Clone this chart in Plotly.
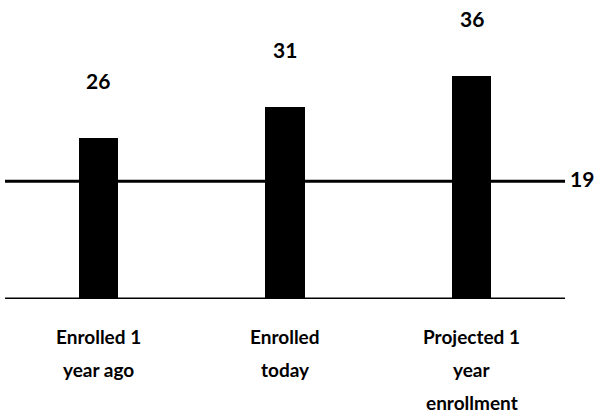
import plotly.graph_objects as go

categories = ["Enrolled 1<br>year ago", "Enrolled<br>today", "Projected 1<br>year<br>enrollment"]
values = [26, 31, 36]
reference_value = 19

FONT = "Lato"
x_idx = list(range(len(categories)))

fig = go.Figure()
fig.add_trace(go.Bar(
    x=x_idx, y=values, width=0.209,
    marker=dict(color="black", line=dict(width=0)),
    hoverinfo="skip", showlegend=False,
))

# value labels above bars
for i, v in enumerate(values):
    fig.add_annotation(x=i, y=v, xref="x", yref="y", text=str(v), showarrow=False,
                       yanchor="middle", yshift=57,
                       font=dict(family=FONT, size=21, color="black", weight=700))

# category labels, one annotation per line for wide line spacing
for i, cat in enumerate(categories):
    for j, line in enumerate(cat.split("<br>")):
        fig.add_annotation(x=i, y=0, xref="x", yref="paper", text=line, showarrow=False,
                           yanchor="middle", yshift=-(37 + 33 * j),
                           font=dict(family=FONT, size=19, color="black", weight=700))

# horizontal lines: baseline and reference
for yv in (0, reference_value):
    fig.add_shape(type="line", xref="paper", yref="y", x0=0, x1=1, y0=yv, y1=yv,
                  line=dict(color="black", width=3), layer="below")

fig.add_annotation(x=1, y=reference_value, xref="paper", yref="y", text=str(reference_value),
                   showarrow=False, xanchor="left", xshift=3, yshift=3,
                   font=dict(family=FONT, size=21, color="black", weight=700))

fig.update_layout(
    width=599, height=420,
    margin=dict(l=5, r=34, t=10, b=121),
    paper_bgcolor="white", plot_bgcolor="white",
    xaxis=dict(range=[-0.5, 2.5], showticklabels=False, showgrid=False, zeroline=False,
               showline=False, ticks=""),
    yaxis=dict(range=[0, 289 / 6.2], showticklabels=False, showgrid=False, zeroline=False,
               showline=False, ticks=""),
    bargap=0,
)

fig.write_html("out.html")
